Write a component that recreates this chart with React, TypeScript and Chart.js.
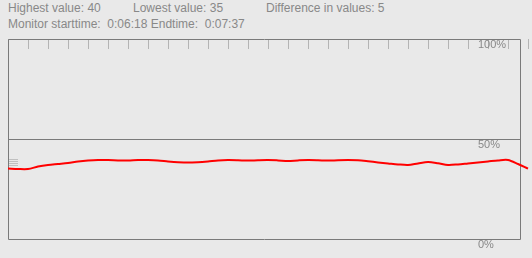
import React, { useEffect, useRef } from "react";
import { Chart, registerables } from "chart.js";

Chart.register(...registerables);

// time steps (every half tick-interval) and measured values in %
const stepIndex: number[] = Array.from({ length: 53 }, (_, i) => i * 0.5);
const values: number[] = [
  35.2, 35, 35, 36.2, 37, 37.5, 38, 38.7, 39.2, 39.5,
  39.5, 39.3, 39.2, 39.5, 39.5, 39.3, 38.8, 38.4, 38.2, 38.4,
  38.8, 39.3, 39.5, 39.4, 39.2, 39.4, 39.5, 39.3, 39, 39.3,
  39.5, 39.4, 39.2, 39.4, 39.5, 39.4, 38.9, 38.3, 37.8, 37.3,
  37, 37.8, 38.5, 37.9, 37, 37.3, 37.8, 38.3, 38.8, 39.3,
  39.5, 37.5, 35.2,
];
const tickMarks: number[] = Array.from({ length: 27 }, (_, i) => i);
const yLabels: { v: number; t: string }[] = [
  { v: 100, t: "100%" },
  { v: 50, t: "50%" },
  { v: 0, t: "0%" },
];
const headerLine1 = ["Highest value: 40", "Lowest value: 35", "Difference in values: 5"];
const headerLine2 = "Monitor starttime:\u00a0 0:06:18 Endtime:\u00a0 0:07:37";

const BG = "#e9e9e9";
const TEXT = "#888888";

const framePlugin = {
  id: "frame",
  beforeDatasetsDraw(chart: any) {
    const { ctx, chartArea, scales } = chart;
    const { left, right, top, bottom } = chartArea;
    const x = scales.x;
    const y = scales.y;
    ctx.save();
    // top tick marks
    ctx.strokeStyle = "#b4b4b4";
    ctx.lineWidth = 1;
    tickMarks.forEach((t) => {
      const px = Math.round(x.getPixelForValue(t)) + 0.5;
      ctx.beginPath();
      ctx.moveTo(px, top);
      ctx.lineTo(px, top + 10);
      ctx.stroke();
    });
    // small legend-like icon
    ctx.strokeStyle = "#c0c0c0";
    [0, 2, 4, 6].forEach((d) => {
      ctx.beginPath();
      ctx.moveTo(left, Math.round(y.getPixelForValue(40)) + d + 0.5);
      ctx.lineTo(left + 10, Math.round(y.getPixelForValue(40)) + d + 0.5);
      ctx.stroke();
    });
    // frame
    ctx.strokeStyle = "#7a7a7a";
    ctx.beginPath();
    ctx.moveTo(left + 0.5, top + 0.5);
    ctx.lineTo(right + 0.5, top + 0.5);
    ctx.lineTo(right + 0.5, bottom + 0.5);
    ctx.lineTo(left + 0.5, bottom + 0.5);
    ctx.closePath();
    ctx.stroke();
    // 50% line
    const mid = Math.round(y.getPixelForValue(50)) + 0.5;
    ctx.beginPath();
    ctx.moveTo(left, mid);
    ctx.lineTo(right, mid);
    ctx.stroke();
    // labels
    ctx.fillStyle = TEXT;
    ctx.font = "11px 'Liberation Sans', Arial, sans-serif";
    ctx.textAlign = "left";
    ctx.textBaseline = "alphabetic";
    yLabels.forEach((l) => {
      ctx.fillText(l.t, left + 470, y.getPixelForValue(l.v) + 9);
    });
    ctx.restore();
  },
};

export default function App() {
  const ref = useRef<HTMLCanvasElement | null>(null);

  useEffect(() => {
    document.body.style.margin = "0";
    document.body.style.background = BG;
    const canvas = ref.current!;
    const chart = new Chart(canvas, {
      type: "line",
      data: {
        datasets: [
          {
            data: stepIndex.map((s, i) => ({ x: s, y: values[i] })),
            borderColor: "#ff0000",
            borderWidth: 2,
            pointRadius: 0,
            tension: 0.3,
            fill: false,
            clip: false as any,
          },
        ],
      },
      options: {
        animation: false,
        responsive: false,
        maintainAspectRatio: false,
        layout: { padding: { left: 8, top: 39, right: 12, bottom: 19 } },
        plugins: { legend: { display: false }, tooltip: { enabled: false } },
        scales: {
          x: { type: "linear", min: 0, max: 25.6, display: false },
          y: { min: 0, max: 100, display: false },
        },
      },
      plugins: [framePlugin],
    });
    return () => chart.destroy();
  }, []);

  const font = "12px 'Liberation Sans', Arial, sans-serif";
  return (
    <div style={{ position: "relative", width: 532, height: 258, background: BG, overflow: "hidden" }}>
      <div style={{ position: "absolute", left: 8, top: 0, font, color: TEXT, whiteSpace: "pre", lineHeight: "15px" }}>
        <span style={{ position: "absolute", left: 0, top: 1 }}>{headerLine1[0]}</span>
        <span style={{ position: "absolute", left: 125, top: 1 }}>{headerLine1[1]}</span>
        <span style={{ position: "absolute", left: 258, top: 1 }}>{headerLine1[2]}</span>
        <span style={{ position: "absolute", left: 0, top: 17 }}>{headerLine2}</span>
      </div>
      <canvas ref={ref} width={532} height={258} style={{ position: "absolute", left: 0, top: 0 }} />
    </div>
  );
}
